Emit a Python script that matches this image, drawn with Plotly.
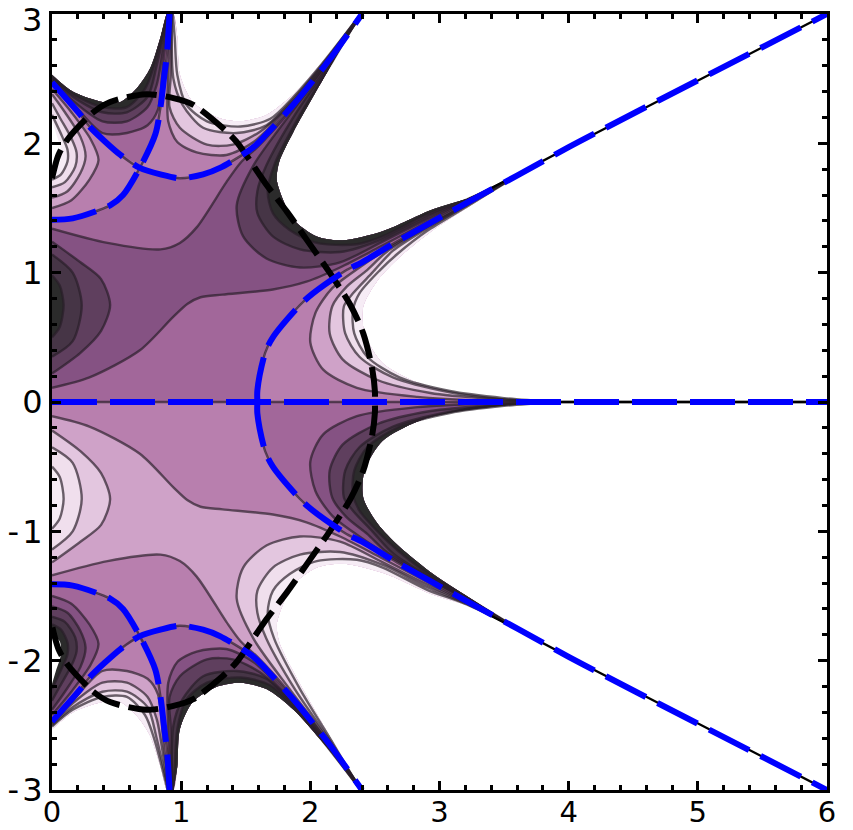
import plotly.graph_objects as go

X_TICKS = [0, 1, 2, 3, 4, 5, 6]
Y_TICKS = [-3, -2, -1, 0, 1, 2, 3]
Y_LABELS = ["-\u200a3", "-\u200a2", "-\u200a1", "0", "1", "2", ""]
TOP_LABEL = "3"

BAND_POS = ["#B87FAE", "#CFA2C8", "#E3C6DF", "#F0DFED", "#F6ECF5"]
BAND_NEG = ["#A2679A", "#855283", "#5F3F5E", "#463546", "#2B2B2B"]

# zero-level curves (upper half; the lower half is their mirror image)
BLUE1 = [(0,2.47),(.22,2.22),(.29,2.13),(.53,1.91),(.68,1.81),(.84,1.76),(.99,1.73),(1.17,1.76),(1.30,1.81),(1.56,1.97),(1.66,2.07),(1.87,2.30),(2.15,2.65),(2.40,3.0)]
BLUE2 = [(0,1.41),(.16,1.42),(.45,1.52),(.55,1.60),(.68,1.81),(.80,2.07),(.84,2.28),(.87,2.53),(.89,2.69),(.91,3.0)]
ARC = [(1.59,0),(1.59,.09),(1.65,.38),(1.71,.50),(1.92,.75),(2.02,.84),(2.28,1.02),(2.40,1.08),(2.67,1.24),(3.21,1.54),(3.6,1.75)]
RAY = [(3.3,1.6),(4.0,1.97),(6,3)]
AXIS = [(0,0),(6,0)]
FAR_AXIS = [(3.7,0),(6,0)]
BLACK = [(0,1.73),(.05,1.91),(.12,2.03),(.32,2.24),(.45,2.32),(.73,2.38),(.94,2.35),(1.09,2.30),(1.32,2.12),(1.43,2.01),(1.66,1.68),(1.82,1.47),(2.0,1.215),(2.15,1.0),(2.31,.75),(2.41,.53),(2.48,.25),(2.50,.08),(2.5,0)]

# right wedge
EDGE_R = [(3.6,1.75),(3.21,1.50),(2.95,1.33),(2.69,1.12),(2.52,.94),(2.41,.74),(2.42,.53),(2.56,.30),(2.83,.15),(3.18,.05),(3.60,.015),(3.9,0)]
R1 = [(3.6,1.75),(3.21,1.53),(2.9,1.36),(2.56,1.16),(2.38,1.04),(2.17,.88),(2.04,.69),(2.0,.46),(2.10,.25),(2.36,.11),(2.83,.04),(3.4,.01),(3.9,0)]
R2 = [(3.6,1.75),(3.21,1.525),(2.9,1.35),(2.59,1.16),(2.44,1.02),(2.28,.89),(2.17,.74),(2.15,.53),(2.25,.33),(2.52,.17),(2.93,.07),(3.4,.025),(3.9,0)]
R3 = [(3.6,1.75),(3.21,1.52),(2.9,1.34),(2.64,1.17),(2.48,1.0),(2.33,.84),(2.26,.74),(2.27,.53),(2.38,.35),(2.64,.19),(3.08,.075),(3.5,.02),(3.9,0)]
R4 = [(3.6,1.75),(3.21,1.51),(2.9,1.32),(2.68,1.15),(2.54,1.02),(2.38,.84),(2.33,.71),(2.34,.53),(2.44,.35),(2.69,.19),(3.08,.085),(3.5,.03),(3.9,0)]

# top wedge
EDGE_M = [(.94,3),(.97,2.82),(.99,2.53),(1.09,2.32),(1.28,2.20),(1.46,2.17),(1.66,2.22),(1.87,2.38),(2.07,2.60),(2.23,2.79),(2.39,3)]
M1 = [(.92,3),(.90,2.53),(.90,2.17),(.97,2.01),(1.12,1.93),(1.35,1.91),(1.56,2.01),(1.84,2.29),(2.07,2.56),(2.39,3)]
M2 = [(.925,3),(.92,2.53),(.91,2.28),(.99,2.12),(1.20,1.99),(1.40,1.99),(1.61,2.09),(1.87,2.33),(2.07,2.57),(2.39,3)]
M3 = [(.93,3),(.94,2.5),(1.01,2.30),(1.17,2.12),(1.43,2.08),(1.66,2.14),(1.87,2.345),(2.07,2.58),(2.39,3)]
M4 = [(.935,3),(.95,2.82),(.97,2.53),(1.04,2.30),(1.20,2.17),(1.46,2.13),(1.69,2.19),(1.87,2.36),(2.07,2.59),(2.39,3)]

# left half lobe
L1 = [(0,1.50),(.15,1.56),(.29,1.72),(.36,1.87),(.30,2.03),(.15,2.24),(0,2.42)]
L2 = [(0,1.58),(.12,1.63),(.22,1.77),(.26,1.90),(.22,2.05),(.10,2.24),(0,2.38)]
L3 = [(0,1.66),(.10,1.70),(.18,1.82),(.19,1.93),(.15,2.04),(.06,2.20),(0,2.31)]
L4 = [(0,1.72),(.07,1.76),(.12,1.86),(.12,1.95),(.08,2.05),(0,2.22)]
EDGE_L = [(0,1.80),(.06,1.85),(.07,1.95),(.03,2.08),(0,2.18)]

# central wedge
EDGE_C = [(3.6,1.75),(3.21,1.57),(2.95,1.49),(2.56,1.32),(2.25,1.25),(2.05,1.28),(1.87,1.41),(1.79,1.56),(1.74,1.72),(1.76,1.86),(1.87,2.09),(2.13,2.55),(2.39,3)]
CA = [(0,.11),(.29,.19),(.68,.40),(.94,.66),(1.05,.76),(1.15,.81),(1.32,.83),(1.71,.87),(1.97,.93),(2.23,1.04),(2.54,1.20),(2.9,1.39),(3.21,1.55),(3.6,1.75)]
CB = [(0,1.34),(.43,1.23),(.84,1.18),(.99,1.23),(1.12,1.35),(1.35,1.70),(1.46,1.85),(1.60,1.98),(1.80,2.20),(2.13,2.62),(2.40,3)]
C2 = [(3.6,1.75),(3.21,1.555),(2.9,1.41),(2.56,1.24),(2.23,1.08),(1.92,1.04),(1.66,1.11),(1.48,1.28),(1.43,1.52),(1.56,1.83),(1.84,2.22),(2.15,2.63),(2.39,3)]
C3 = [(3.6,1.75),(3.21,1.56),(2.9,1.43),(2.56,1.26),(2.23,1.16),(1.92,1.18),(1.71,1.28),(1.59,1.46),(1.59,1.63),(1.66,1.83),(1.88,2.22),(2.16,2.63),(2.39,3)]
C4 = [(3.6,1.75),(3.21,1.565),(2.9,1.45),(2.56,1.28),(2.36,1.22),(2.05,1.23),(1.84,1.33),(1.71,1.46),(1.67,1.63),(1.72,1.83),(1.92,2.22),(2.17,2.63),(2.39,3)]
P2 = [(0,.22),(.22,.38),(.38,.55),(.45,.75),(.38,.95),(.22,1.08),(0,1.24)]
P3 = [(0,.35),(.16,.47),(.23,.75),(.16,1.0),(0,1.14)]
P4 = [(0,.5),(.06,.58),(.09,.75),(.06,.9),(0,.98)]

# top-left wedge
EDGE_T = [(0,2.53),(.16,2.40),(.39,2.32),(.53,2.32),(.66,2.43),(.76,2.58),(.84,2.82),(.89,3)]
T1 = [(0,2.48),(.16,2.31),(.39,2.08),(.58,2.08),(.74,2.14),(.82,2.26),(.86,2.6),(.905,3)]
T2 = [(0,2.49),(.16,2.33),(.39,2.17),(.58,2.17),(.74,2.28),(.81,2.45),(.84,2.6),(.90,3)]
T3 = [(0,2.50),(.16,2.36),(.39,2.24),(.58,2.24),(.74,2.36),(.81,2.6),(.90,3)]
T4 = [(0,2.51),(.16,2.38),(.39,2.28),(.58,2.28),(.72,2.42),(.79,2.6),(.895,3)]

LINE = "rgba(40,30,40,0.68)"
fig = go.Figure()


def xy(pts, sign):
    return [p[0] for p in pts], [sign * p[1] for p in pts]


def fill(pts, color, sign):
    x, y = xy(pts, sign)
    fig.add_trace(go.Scatter(x=x, y=y, mode="lines", fill="toself", fillcolor=color,
                             line=dict(width=0, shape="spline", smoothing=0.8, color=color),
                             hoverinfo="skip", showlegend=False))


def curve(pts, sign, color=LINE, width=2.4, dash=None, shape="spline"):
    x, y = xy(pts, sign)
    fig.add_trace(go.Scatter(x=x, y=y, mode="lines",
                             line=dict(width=width, shape=shape, smoothing=0.8, color=color, dash=dash),
                             hoverinfo="skip", showlegend=False))


def half(sign, pos, neg):
    # central negative wedge
    fill(ARC + EDGE_C[1:] + BLUE1[4:][::-1] + BLUE2[:4][::-1] + [(-.1, 1.41), (-.1, 0)], neg[0], sign)
    fill(CA + EDGE_C[1:] + CB[::-1], neg[1], sign)
    for c, i in ((P2, 2), (P3, 3), (P4, 4)):
        fill(c, neg[i], sign)
    for c, i in ((C2, 2), (C3, 3), (C4, 4)):
        fill(c + EDGE_C[::-1][:-1], neg[i], sign)
    # top-left negative wedge
    fill(BLUE1[:5] + BLUE2[5:] + EDGE_T[::-1], neg[0], sign)
    for i, c in enumerate((T1, T2, T3, T4)):
        fill(c + EDGE_T[::-1], neg[i + 1], sign)
    # right positive wedge
    fill(ARC + EDGE_R[1:], pos[0], sign)
    for i, c in enumerate((R1, R2, R3, R4)):
        fill(c + EDGE_R[::-1][1:-1], pos[i + 1], sign)
    # top positive wedge
    fill(BLUE2[4:] + EDGE_M + BLUE1[4:][::-1], pos[0], sign)
    for i, c in enumerate((M1, M2, M3, M4)):
        fill(c + EDGE_M[::-1], pos[i + 1], sign)
    # left positive half lobe
    fill(BLUE2[:5] + BLUE1[:4][::-1], pos[0], sign)
    for i, c in enumerate((L1, L2, L3, L4)):
        fill(c, pos[i + 1], sign)
    fill(EDGE_L, "#FFFFFF", sign)
    # contour lines
    for c in (CA, CB, P2, P3, P4, C2, C3, C4, T1, T2, T3, T4, R1, R2, R3, R4, M1, M2, M3, M4, L1, L2, L3, L4, BLUE1, BLUE2, ARC):
        curve(c, sign)
    curve(RAY, sign, "#000000", 2.4, None, "linear")


half(1, BAND_POS, BAND_NEG)
half(-1, BAND_NEG, BAND_POS)
curve(AXIS, 1, LINE, 2.4, None, "linear")
curve(FAR_AXIS, 1, "#000000", 2.4, None, "linear")

# black dashed curve, top to bottom
black_full = BLACK + [(p[0], -p[1]) for p in BLACK[::-1][1:]]
curve(black_full, 1, "#000000", 6, "30px,9px")

# blue dashed zero curves
BLUE_DASH = "45px,13px"
curve(AXIS, 1, "#0000FF", 6, BLUE_DASH, "linear")
for s in (1, -1):
    curve(BLUE1, s, "#0000FF", 6, BLUE_DASH)
    curve(BLUE2, s, "#0000FF", 6, BLUE_DASH)
    curve(ARC + RAY[1:], s, "#0000FF", 6, BLUE_DASH)

FONT = dict(family="DejaVu Sans", size=32, color="#000000")
XFONT = dict(family="DejaVu Sans", size=29, color="#000000")
axis_common = dict(showgrid=False, zeroline=False, showline=True, linecolor="#000000", linewidth=3,
                   mirror="ticks", ticks="inside", ticklen=9, tickwidth=3, tickcolor="#000000",
                   automargin=False, ticklabeloverflow="allow")
fig.update_layout(
    width=853, height=830, margin=dict(l=52, r=26, t=14, b=40),
    paper_bgcolor="#FFFFFF", plot_bgcolor="#FFFFFF", showlegend=False,
    xaxis=dict(range=[0, 6], tickvals=X_TICKS, ticktext=[str(v) for v in X_TICKS], tickfont=XFONT,
               ticklabelstandoff=-6,
               minor=dict(dtick=0.2, ticks="inside", ticklen=5, tickwidth=3, tickcolor="#000000"), **axis_common),
    yaxis=dict(range=[-3, 3], tickvals=Y_TICKS, ticktext=Y_LABELS, tickfont=FONT,
               minor=dict(dtick=0.2, ticks="inside", ticklen=5, tickwidth=3, tickcolor="#000000"), **axis_common),
    annotations=[dict(x=0, y=3, xref="x", yref="y", text=TOP_LABEL, showarrow=False, font=FONT,
                      xanchor="right", yanchor="middle", xshift=-8, yshift=-6)],
)
fig.write_html("out.html", config={"displayModeBar": False}, post_script="document.body.style.margin='0';")
